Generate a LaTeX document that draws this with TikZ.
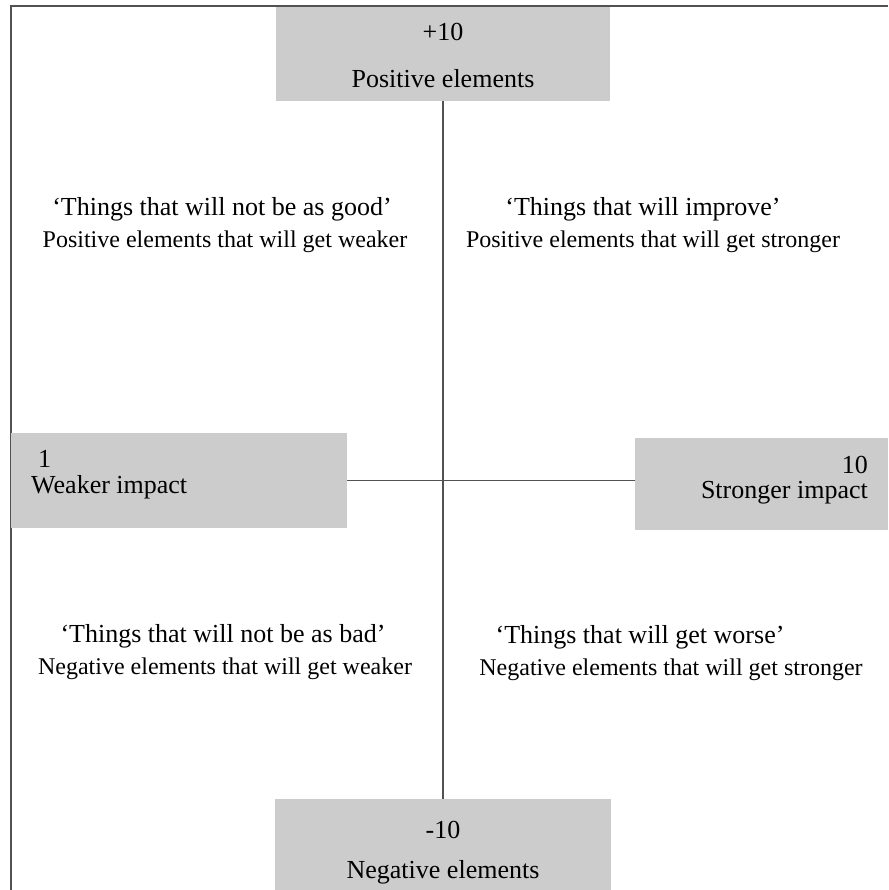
\documentclass[tikz,border=0pt]{standalone}
\usepackage{fontspec}
\setmainfont{Liberation Serif}
\begin{document}
\begin{tikzpicture}[x=1pt,y=-1pt,
  linecol/.style={draw=black!68,line width=1.8pt},
  graybox/.style={fill=black!20,draw=none,inner sep=0pt,outer sep=0pt},
  boxtext/.style={font=\fontsize{26}{28}\selectfont,inner sep=0pt},
  quotetext/.style={font=\fontsize{26}{28}\selectfont,inner sep=0pt},
  subtext/.style={font=\fontsize{24}{26}\selectfont,inner sep=0pt}]
\useasboundingbox (0,0) rectangle (888,890);
% frame
\coordinate (ftr) at (888,6);
\coordinate (ftl) at (11,6);
\coordinate (fbl) at (11,890);
\draw[linecol] (ftr) -- (ftl) -- (fbl);
% boxes
\node[graybox,minimum width=334pt,minimum height=94pt] (top) at (443,54) {};
\node[graybox,minimum width=336pt,minimum height=92pt] (bot) at (443,845) {};
\node[graybox,minimum width=336pt,minimum height=95pt] (lft) at (179,480.5) {};
\node[graybox,minimum width=253pt,minimum height=92pt] (rgt) at (761.5,484) {};
% connectors
\draw[linecol] (top.south) -- (bot.north);
\draw[linecol] (lft.east) -- (rgt.west |- lft.east);
% box texts
\node[boxtext] (t1) at (443,32) {+10};
\node[boxtext] (t2) at (443,79) {Positive elements};
\node[boxtext] (b1) at (443,830) {-10};
\node[boxtext] (b2) at (443,872) {Negative elements};
\node[boxtext,anchor=base west] (l1) at (38,467) {1};
\node[boxtext,anchor=base west] (l2) at (31,493) {Weaker impact};
\node[boxtext,anchor=base east] (r1) at (868,473) {10};
\node[boxtext,anchor=base east] (r2) at (868,498) {Stronger impact};
% quadrant texts
\node[quotetext] (q1) at (222,209) {‘Things that will not be as good’};
\node[subtext] (s1) at (225,242) {Positive elements that will get weaker};
\node[quotetext] (q2) at (643,209) {‘Things that will improve’};
\node[subtext] (s2) at (653,242) {Positive elements that will get stronger};
\node[quotetext] (q3) at (223,636) {‘Things that will not be as bad’};
\node[subtext] (s3) at (225,669) {Negative elements that will get weaker};
\node[quotetext] (q4) at (640,637) {‘Things that will get worse’};
\node[subtext] (s4) at (671,670) {Negative elements that will get stronger};
\end{tikzpicture}
\end{document}
